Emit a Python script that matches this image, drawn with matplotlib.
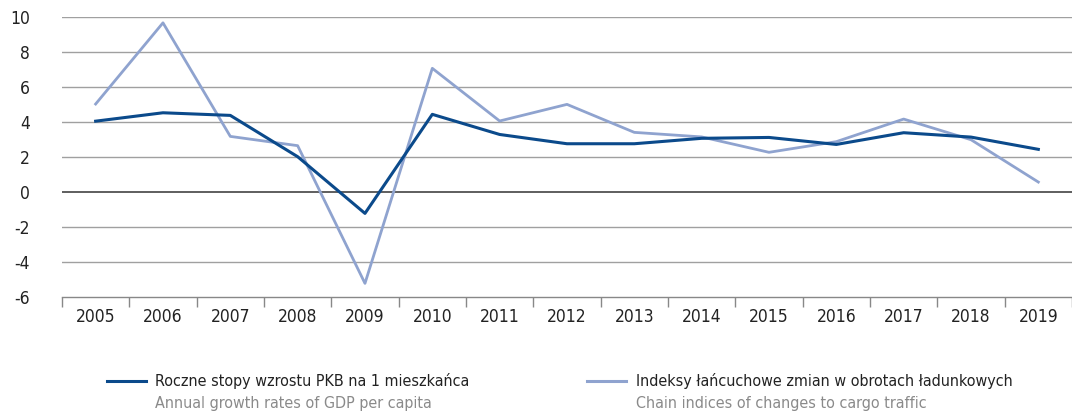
import matplotlib.pyplot as plt
from matplotlib.lines import Line2D
import numpy as np

plt.rcParams['font.family'] = ['DejaVu Sans']
plt.rcParams['font.stretch'] = 'condensed'

years = ['2005', '2006', '2007', '2008', '2009', '2010', '2011', '2012',
         '2013', '2014', '2015', '2016', '2017', '2018', '2019']
pkb = [4.05, 4.53, 4.38, 2.02, -1.22, 4.44, 3.29, 2.76, 2.76, 3.07, 3.12, 2.72, 3.39, 3.14, 2.44]
cargo = [5.03, 9.67, 3.18, 2.65, -5.22, 7.07, 4.06, 5.01, 3.41, 3.15, 2.27, 2.88, 4.17, 2.99, 0.57]

labels_pl = ['Roczne stopy wzrostu PKB na 1 mieszkańca',
             'Indeksy łańcuchowe zmian w obrotach ładunkowych']
labels_en = ['Annual growth rates of GDP per capita',
             'Chain indices of changes to cargo traffic']
colors = ['#0b4a8b', '#8fa3cf']

fig = plt.figure(figsize=(10.72, 4.16), dpi=100)
ax = fig.add_axes([0.0578, 0.286, 0.9422, 0.673])

x = np.arange(len(years))
ax.plot(x, cargo, color=colors[1], lw=2.0, zorder=3)
ax.plot(x, pkb, color=colors[0], lw=2.2, zorder=4)

ax.set_xlim(-0.5, len(years) - 0.5)
ax.set_ylim(-6, 10)
ax.set_yticks(range(-6, 11, 2))
ax.set_yticklabels([str(v) for v in range(-6, 11, 2)], fontsize=12.5, color='#222222')
for v in range(-4, 11, 2):
    ax.axhline(v, color='#333333' if v == 0 else '#a0a0a0', lw=1.1 if v == 0 else 1.0, zorder=1)

ax.set_xticks(x)
ax.set_xticklabels(years, fontsize=12.5, color='#222222')
ax.set_xticks(np.arange(-0.5, len(years) - 0.4, 1), minor=True)
ax.tick_params(axis='x', which='major', length=0, pad=8)
ax.tick_params(axis='x', which='minor', length=7, color='#888888', width=1)
ax.tick_params(axis='y', length=0, pad=23)
for lbl in ax.get_yticklabels():
    lbl.set_horizontalalignment('right')

for s in ['top', 'right', 'left']:
    ax.spines[s].set_visible(False)
ax.spines['bottom'].set_color('#888888')
ax.spines['bottom'].set_linewidth(1.0)

# legend drawn by hand: colored line, Polish label, English label below
for lx, c, pl, en in zip([0.1, 0.548], colors, labels_pl, labels_en):
    fig.add_artist(Line2D([lx, lx + 0.036], [0.084, 0.084], color=c, lw=2.2,
                          transform=fig.transFigure))
    fig.text(lx + 0.045, 0.084, pl, fontsize=11.5, color='#222222', va='center')
    fig.text(lx + 0.045, 0.03, en, fontsize=11.5, color='#8a8a8a', va='center')

fig.savefig('out.png', dpi=100)
